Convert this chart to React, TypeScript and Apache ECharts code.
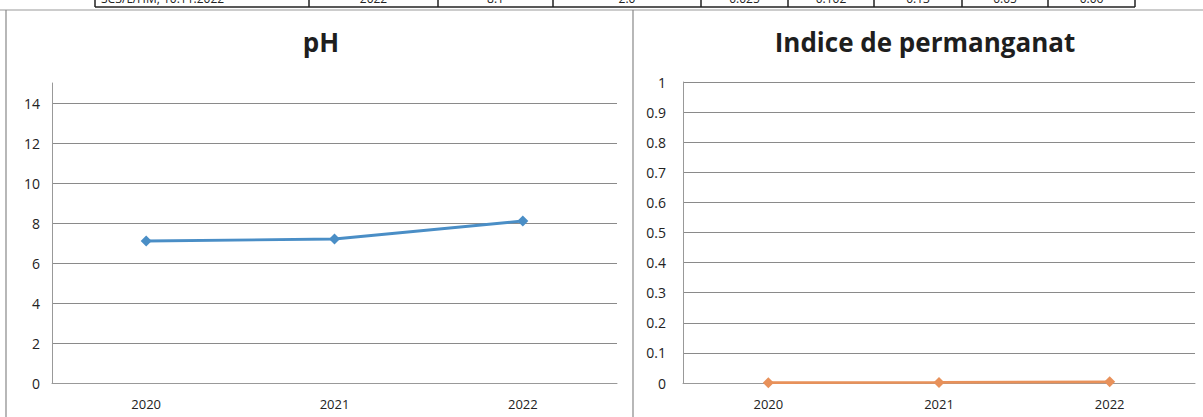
import React, { useEffect, useRef } from "react";
import * as echarts from "echarts";

const years = ["2020", "2021", "2022"];
const phValues = [7.1, 7.2, 8.1];
const permanganatValues = [0.001, 0.002, 0.004];
const tableCells = ["SC3/L/HM, 10.11.2022", "2022", "8.1", "2.0", "0.025", "0.102", "0.13", "0.05", "0.06"];
const tableDividers = [95, 309, 438, 553, 701, 788, 874, 962, 1048, 1135];

const FONT = "'Open Sans', 'Noto Sans', sans-serif";

export default function App() {
  const ref = useRef<HTMLDivElement>(null);
  useEffect(() => {
    document.body.style.margin = "0";
    const chart = echarts.init(ref.current!, undefined, { renderer: "svg" });
    const graphics: any[] = [];
    // table row fragment at the top
    graphics.push({ type: "line", shape: { x1: tableDividers[0], y1: 7, x2: tableDividers[tableDividers.length - 1], y2: 7 }, style: { stroke: "#222", lineWidth: 1.5 } });
    tableDividers.forEach((x) => {
      graphics.push({ type: "line", shape: { x1: x, y1: 0, x2: x, y2: 7 }, style: { stroke: "#222", lineWidth: 1.5 } });
    });
    tableCells.forEach((t, i) => {
      const x0 = tableDividers[i];
      const x1 = tableDividers[i + 1];
      graphics.push({
        type: "text",
        x: i === 0 ? x0 + 6 : (x0 + x1) / 2,
        y: -8,
        style: { text: t, fill: "#222", font: `12px ${FONT}`, textAlign: i === 0 ? "left" : "center", textVerticalAlign: "top" },
      });
    });
    // chart frame
    graphics.push({ type: "line", shape: { x1: 0, y1: 10, x2: 1203, y2: 10 }, style: { stroke: "#999", lineWidth: 1 } });
    graphics.push({ type: "line", shape: { x1: 6, y1: 10, x2: 6, y2: 417 }, style: { stroke: "#888", lineWidth: 1.2 } });
    graphics.push({ type: "line", shape: { x1: 633, y1: 10, x2: 633, y2: 417 }, style: { stroke: "#888", lineWidth: 1.2 } });

    const axisLabel = { color: "#222", fontFamily: FONT, fontSize: 14 };
    const titleStyle = { fontFamily: FONT, fontSize: 26, fontWeight: "bold", color: "#1e1e1e" };
    chart.setOption({
      animation: false,
      backgroundColor: "#fff",
      title: [
        { text: "pH", left: 316, top: 24, textAlign: "center", textStyle: titleStyle },
        { text: "Indice de permanganat", left: 920, top: 24, textAlign: "center", textStyle: titleStyle },
      ],
      grid: [
        { left: 52, right: 586, top: 83, bottom: 34 },
        { left: 683, right: 8, top: 82, bottom: 34 },
      ],
      xAxis: [
        { type: "category", gridIndex: 0, data: years, boundaryGap: true, axisLine: { lineStyle: { color: "#999" } }, axisTick: { show: false }, axisLabel: { ...axisLabel, fontSize: 13, margin: 14 } },
        { type: "category", gridIndex: 1, data: years, boundaryGap: true, axisLine: { lineStyle: { color: "#999" } }, axisTick: { show: false }, axisLabel: { ...axisLabel, fontSize: 13, margin: 14 } },
      ],
      yAxis: [
        {
          type: "value", gridIndex: 0, min: 0, max: 15, interval: 2,
          axisLine: { show: true, lineStyle: { color: "#999" } }, axisTick: { show: false },
          axisLabel: { ...axisLabel, margin: 12, showMaxLabel: false },
          splitLine: { show: true, showMaxLine: false, lineStyle: { color: "#8a8a8a", width: 1 } },
        },
        {
          type: "value", gridIndex: 1, min: 0, max: 1, interval: 0.1,
          axisLine: { show: true, lineStyle: { color: "#999" } }, axisTick: { show: false },
          axisLabel: { ...axisLabel, margin: 17, formatter: (v: number) => String(Math.round(v * 10) / 10) },
          splitLine: { show: true, lineStyle: { color: "#8a8a8a", width: 1 } },
        },
      ],
      series: [
        {
          type: "line", xAxisIndex: 0, yAxisIndex: 0, data: phValues,
          symbol: "diamond", symbolSize: 11,
          lineStyle: { color: "#4a8ec6", width: 2.8 }, itemStyle: { color: "#4a8ec6" },
        },
        {
          type: "line", xAxisIndex: 1, yAxisIndex: 1, data: permanganatValues,
          symbol: "diamond", symbolSize: 11,
          lineStyle: { color: "#e8915a", width: 2.8 }, itemStyle: { color: "#e8915a" },
        },
      ],
      graphic: graphics,
    });
    return () => chart.dispose();
  }, []);
  return <div ref={ref} style={{ width: 1203, height: 417 }} />;
}
